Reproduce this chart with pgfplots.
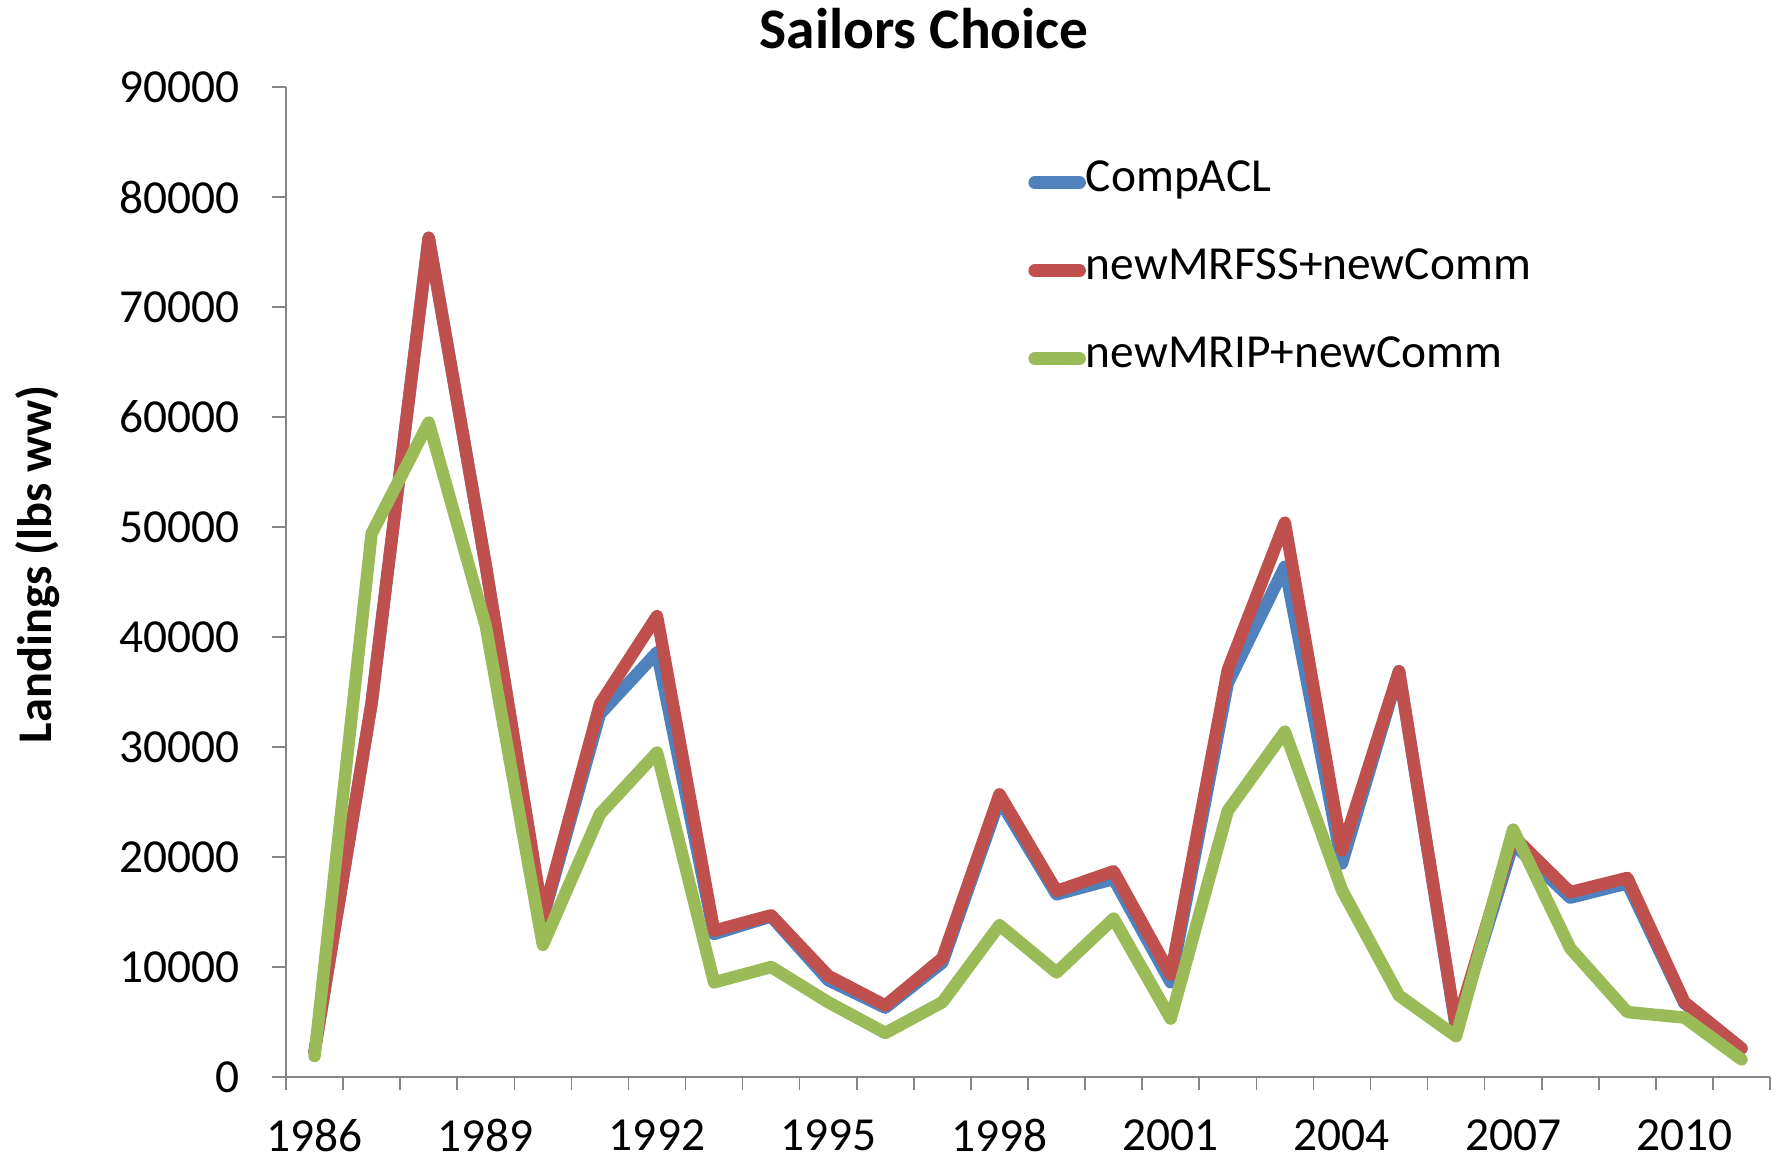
\documentclass[border=0pt]{standalone}
\usepackage{pgfplots}
\pgfplotsset{compat=1.18}
\usepackage{fontspec}
\setmainfont{Carlito}
\definecolor{cblue}{HTML}{4F81BD}
\definecolor{cred}{HTML}{C0504D}
\definecolor{cgreen}{HTML}{9BBB59}
\definecolor{axgray}{HTML}{868686}
\begin{document}
\begin{tikzpicture}
\begin{axis}[
  scale only axis, width=742bp, height=495bp,
  xmin=-0.5, xmax=25.5, ymin=0, ymax=90000,
  axis x line=bottom, axis y line=left,
  axis line style={draw=axgray, line width=0.8bp, -},
  tick align=outside,
  xtick={0,3,...,24},
  xticklabels={1986,1989,1992,1995,1998,2001,2004,2007,2010},
  xtick style={draw=none},
  extra x ticks={-0.5,0.5,...,25.5},
  extra x tick labels={},
  extra x tick style={xtick style={draw=axgray, line width=0.8bp}, major tick length=6.5bp},
  ytick={0,10000,...,90000},
  ytick style={draw=axgray, line width=0.8bp},
  major tick length=7bp,
  scaled y ticks=false,
  /pgf/number format/.cd, fixed, 1000 sep={}, assume math mode=true, /pgfplots/.cd,
  ticklabel style={font=\fontsize{23.8}{28}\selectfont, text=black},
  yticklabel style={inner sep=0pt, anchor=east, xshift=-16bp},
  xticklabel style={inner sep=0pt, anchor=north, yshift=-14bp},
  title={Sailors Choice},
  title style={font=\bfseries\fontsize{28.8}{32}\selectfont, at={(axis description cs:0.43,1)}, anchor=base, yshift=13.5bp, inner sep=0pt},
  ylabel={Landings (lbs ww)},
  ylabel style={font=\bfseries\fontsize{24.3}{28}\selectfont, at={(axis description cs:-0.1577,0.518)}, anchor=base, rotate=0, inner sep=0pt},
  legend style={at={(axis description cs:0.5,0.8146)}, anchor=west, draw=none, fill=none,
    font=\fontsize{23.8}{28}\selectfont, row sep=19bp, inner sep=0pt,
    nodes={inner sep=0pt, text height=17bp, text depth=8bp}},
  legend cell align=left,
  legend image code/.code={\draw[line width=6.5bp, line cap=round] (3.25bp,0bp) -- (25.5bp,0bp);},
  every axis plot/.append style={line width=6.2bp, line join=round, line cap=round},
  clip=false,
]
\addplot[cblue] table {
x y
0 2300
1 34000
2 76300
3 46500
4 14400
5 33000
6 38600
7 13000
8 14600
9 8800
10 6300
11 10400
12 25200
13 16600
14 18000
15 8600
16 35800
17 46400
18 19400
19 36900
20 4400
21 21200
22 16300
23 17600
24 6700
25 2600
};
\addlegendentry{CompACL}
\addplot[cred] table {
x y
0 2300
1 34000
2 76300
3 46500
4 14600
5 33900
6 41900
7 13300
8 14700
9 9200
10 6500
11 10800
12 25700
13 16900
14 18700
15 9300
16 37000
17 50400
18 20600
19 36900
20 4600
21 21900
22 16800
23 18100
24 6800
25 2600
};
\addlegendentry{newMRFSS+newComm}
\addplot[cgreen] table {
x y
0 1900
1 49400
2 59500
3 41000
4 12000
5 23900
6 29500
7 8600
8 10000
9 6800
10 4000
11 6800
12 13800
13 9500
14 14400
15 5300
16 24200
17 31400
18 17000
19 7400
20 3700
21 22500
22 11700
23 5900
24 5400
25 1600
};
\addlegendentry{newMRIP+newComm}
\end{axis}
\pgfresetboundingbox
\useasboundingbox ([xshift=-143bp,yshift=-43bp]current axis.south west) rectangle ([xshift=5.5bp,yshift=43.5bp]current axis.north east);
\end{tikzpicture}
\end{document}
